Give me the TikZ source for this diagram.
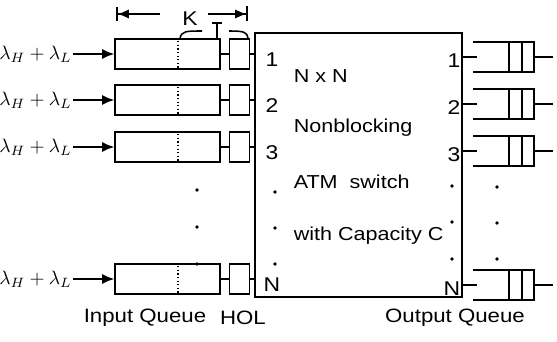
\documentclass[tikz,border=0pt]{standalone}
\usepackage{fontspec}
\setmainfont{Liberation Sans}[FakeStretch=1.15]
\usepackage{tikz}
\usetikzlibrary{positioning, arrows.meta}

\begin{document}
\begin{tikzpicture}[
    x=0.03cm, y=-0.03cm,
    line width=1.3pt,
    queue/.style={rectangle, draw, inner sep=0pt, minimum width=3.15cm, minimum height=0.9cm},
    hol/.style={queue, minimum width=0.6cm},
    lbl/.style={inner sep=0pt, font=\fontsize{17}{20}\selectfont},
    txt/.style={inner sep=0pt, anchor=west, font=\fontsize{16}{19}\selectfont},
    captxt/.style={inner sep=0pt, font=\fontsize{16.5}{19}\selectfont},
    arr/.style={-{Latex[length=3.6mm, width=3mm]}},
    dot/.style={circle, fill, inner sep=0pt, minimum size=3pt}
]
\useasboundingbox (0,0) rectangle (557,342);

% switch fabric
\node[draw, inner sep=0pt, minimum width=6.21cm, minimum height=7.92cm] (sw) at (358.5,165) {};
\node[txt] (t1) at (293,76) {N x N};
\node[txt] (t2) at (293,128) {Nonblocking};
\node[txt] (t3) at (293,182) {ATM\ \ switch};
\node[txt] (t4) at (293,236) {with Capacity C};

% input queues with HOL cell
\foreach \n/\y in {1/54, 2/100, 3/147, N/279} {
  \node[queue] (q\n) at (167.5,\y) {};
  \node[hol, right=0.24cm of q\n] (h\n) {};
  \node[inner sep=0pt, scale=1.65, anchor=east] (in\n) at (73,\y) {$\lambda_H+\lambda_L$};
  \draw[arr] (in\n) -- (q\n);
  \draw (q\n) -- (h\n);
  \draw (h\n.east) -- (h\n.east -| sw.west);
  \draw[dotted, line width=1.1pt] (178,\y-13) -- (178,\y+14);
  \node[lbl] (il\n) at (272,\y+6) {\n};
}

% output queues
\foreach \n/\y in {1/57, 2/104, 3/151, N/285} {
  \coordinate (o\n) at (462,\y);
  \coordinate (oq\n) at (473,\y);
  \draw (o\n) -- ++(15,0);
  \draw (473,\y-15) -- (534,\y-15) -- (534,\y+15) -- (473,\y+15);
  \draw (509,\y-15) -- (509,\y+15) (522,\y-15) -- (522,\y+15);
  \draw (534,\y) -- (553,\y);
  \node[lbl, anchor=east] (ol\n) at (461,\y+4) {\n};
}

% continuation dots
\foreach \y in {190, 227, 264} \node[dot] at (197,\y) {};
\foreach \y in {192, 228, 264} \node[dot] at (275,\y) {};
\foreach \y in {186, 222, 259} \node[dot] at (452,\y) {};
\foreach \y in {187, 223, 259} \node[dot] at (497,\y) {};

% buffer size K
\coordinate (kl) at (116,14);
\coordinate (kla) at (160,14);
\coordinate (krb) at (208,14);
\coordinate (kr) at (248,14);
\node[lbl] (K) at (190,19) {K};
\draw[{Bar[width=4mm]Latex[length=3.4mm, width=2.8mm]}-] (kl) -- (kla);
\draw[-{Latex[length=3.4mm, width=2.8mm]Bar[width=4.5mm]}] (krb) -- (kr);
\draw (217,38) -- (217,23) (212,23) -- (222,23);
\draw (180,38) .. controls (182,31) and (186,31) .. (202,31);
\draw (229,31) .. controls (244,31) and (247,32) .. (248,38);

% captions
\node[captxt] (iq) at (145,318) {Input Queue};
\node[captxt] (hl) at (243,318) {HOL};
\node[captxt] (oq) at (455,318) {Output Queue};
\end{tikzpicture}
\end{document}
